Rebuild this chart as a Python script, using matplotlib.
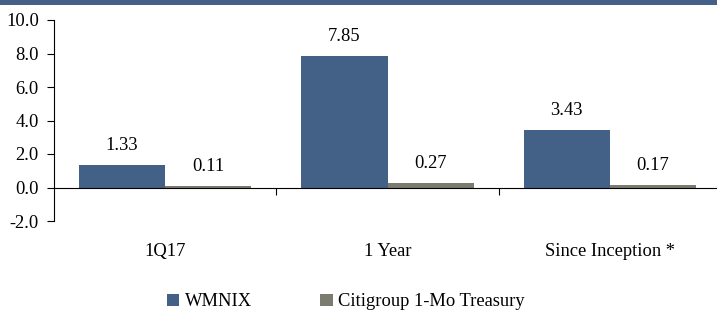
import numpy as np
import matplotlib.pyplot as plt
from matplotlib.patches import Rectangle
import matplotlib.transforms as mtransforms

categories = ["1Q17", "1 Year", "Since Inception *"]
wmnix = [1.33, 7.85, 3.43]
citi = [0.11, 0.27, 0.17]
series_names = ["WMNIX", "Citigroup 1-Mo Treasury"]

blue = "#436086"
grey = "#7b7b6f"
fs = 13.3

plt.rcParams['font.family'] = ['Liberation Serif', 'DejaVu Serif']
plt.rcParams['font.size'] = fs

fig = plt.figure(figsize=(7.17, 3.12), dpi=100)

# banner strip at the top
fig.patches.append(Rectangle((0, 1 - 5 / 312), 1, 5 / 312, transform=fig.transFigure,
                             facecolor="#456089", edgecolor="none"))

ax = fig.add_axes([54 / 717, 91 / 312, 667 / 717, 201 / 312])

ind = np.arange(len(categories))
width = 0.387
b1 = ax.bar(ind - width / 2, wmnix, width, color=blue, label=series_names[0])
b2 = ax.bar(ind + width / 2, citi, width, color=grey, label=series_names[1])

for bars, vals in ((b1, wmnix), (b2, citi)):
    for rect, v in zip(bars, vals):
        ax.annotate("%.2f" % v, (rect.get_x() + rect.get_width() / 2, v),
                    xytext=(0, 8), textcoords="offset points",
                    ha="center", va="bottom", fontsize=fs)

ax.set_xlim(-0.5, 2.5)
ax.set_ylim(-2, 10)
ax.set_yticks(np.arange(-2, 10.1, 2))
ax.set_yticklabels(["%.1f" % t for t in np.arange(-2, 10.1, 2)])

ax.spines["top"].set_visible(False)
ax.spines["right"].set_visible(False)
ax.spines["bottom"].set_position(("data", 0))
ax.spines["left"].set_color("black")
ax.spines["left"].set_linewidth(0.8)
ax.spines["bottom"].set_linewidth(0.8)

ax.set_xticks([0.5, 1.5])
ax.set_xticklabels([])
ax.tick_params(axis="x", direction="out", length=5, width=0.8)
ax.tick_params(axis="y", direction="out", length=5, width=0.8, pad=6, labelsize=fs)

trans = mtransforms.blended_transform_factory(ax.transData, ax.transAxes)
for i, c in enumerate(categories):
    ax.text(i, -0.152, c, transform=trans, ha="center", va="center", fontsize=fs)

fig.legend(handles=[b1, b2], labels=series_names, loc="center",
           bbox_to_anchor=(346 / 717, 1 - 302 / 312), ncol=2, frameon=False,
           handlelength=0.66, handleheight=0.66, handletextpad=0.3,
           columnspacing=3.7, fontsize=fs)

fig.savefig("out.png", dpi=100)
